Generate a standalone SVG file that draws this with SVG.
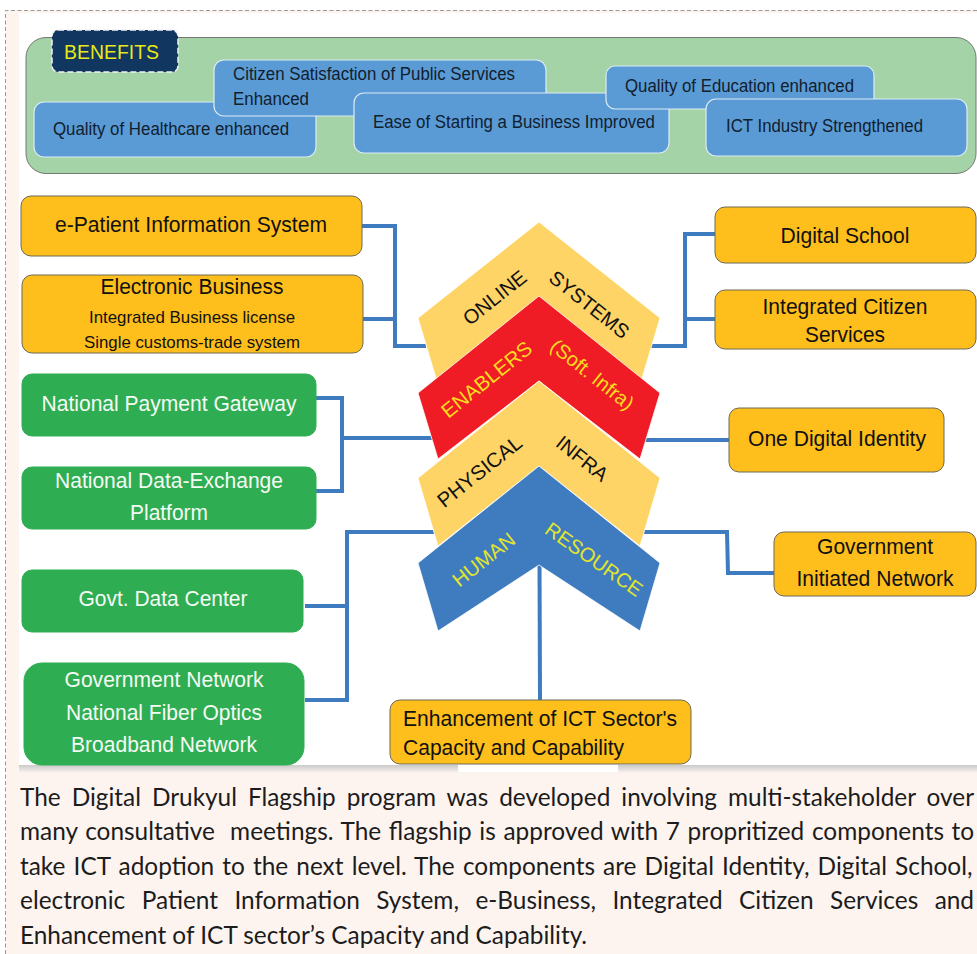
<svg xmlns="http://www.w3.org/2000/svg" width="977" height="954" viewBox="0 0 977 954">
<defs>
<linearGradient id="shade" x1="0" y1="0" x2="0" y2="1"><stop offset="0" stop-color="#c9c9c9"/><stop offset="1" stop-color="#fdf4f0"/></linearGradient>
</defs>
<style>
text{font-family:"Liberation Sans",Arial,sans-serif;fill:#111;text-anchor:middle}
.blue rect{fill:#5b9bd5;stroke:#deebf6;stroke-width:1.2}
.blue text{font-size:17.5px;text-anchor:start;fill:#10202e}
.or rect{fill:#febe1c;stroke:#6f6a55;stroke-width:1}
.gr rect{fill:#2fad52;stroke:#2fad52;stroke-width:1}
.gr text{fill:#f4fbf4;font-size:22px}
.or text{font-size:22px}
.lnk{fill:none;stroke:#3f7cbf;stroke-width:4}
.chev{stroke:#fff;stroke-width:.8}
.ch{font-size:21px}
.body{font-family:"Lato","Carlito",sans-serif;font-size:24.400px;text-anchor:start;fill:#1c1c1c}
</style>
<rect width="977" height="954" fill="#fff"/>
<rect x="6" y="10" width="971" height="944" fill="#fdf4f0"/>
<path d="M5.500 954V10.500H977" fill="none" stroke="#999" stroke-width="1" stroke-dasharray="4 2.500"/>
<rect x="19" y="13" width="958" height="752" fill="#fff"/>
<rect x="19" y="765" width="958" height="8" fill="url(#shade)"/>
<rect x="458" y="765" width="160" height="7" fill="#fff"/>

<g id="connectors">
<path class="lnk" d="M362 226H395V346H426M362 319H395"/>
<path class="lnk" d="M651 346H685V234H715M685 319H715"/>
<path class="lnk" d="M316 398H342V491H316M342 438H434"/>
<path class="lnk" d="M644 440H729"/>
<path class="lnk" d="M437 532H347V700H305M305 606H347"/>
<path class="lnk" d="M642 532H727L728 573H774"/>
<path class="lnk" d="M539.500 560L540 700"/>
</g>

<g id="benefits">
<rect x="26" y="37.500" width="950" height="136" rx="20" fill="#a3d3a7" stroke="#777" stroke-width="1"/>
<rect x="52" y="30" width="126" height="42" rx="6" fill="#113660" stroke="#f2f2f2" stroke-width="1.500" stroke-dasharray="6 3"/>
<text x="64" y="59" textLength="95" lengthAdjust="spacingAndGlyphs" style="font-size:20.500px;text-anchor:start;fill:#e8e81a">BENEFITS</text>
</g>
<g id="b-health" class="blue"><rect x="34" y="102" width="282" height="55" rx="10"/><text x="53" y="135" textLength="236" lengthAdjust="spacingAndGlyphs">Quality of Healthcare enhanced</text></g>
<g id="b-citizen" class="blue"><rect x="214" y="60" width="332" height="56" rx="10"/><text x="233" y="80" textLength="282" lengthAdjust="spacingAndGlyphs">Citizen Satisfaction of Public Services</text><text x="233" y="105" textLength="76" lengthAdjust="spacingAndGlyphs">Enhanced</text></g>
<g id="b-ease" class="blue"><rect x="354" y="93" width="315" height="60" rx="10"/><text x="373" y="128" textLength="282" lengthAdjust="spacingAndGlyphs">Ease of Starting a Business Improved</text></g>
<g id="b-edu" class="blue"><rect x="606" y="66" width="268" height="43" rx="9"/><text x="625" y="92" textLength="229" lengthAdjust="spacingAndGlyphs">Quality of Education enhanced</text></g>
<g id="b-ict" class="blue"><rect x="706" y="99" width="261" height="57" rx="10"/><text x="726" y="132" textLength="197" lengthAdjust="spacingAndGlyphs">ICT Industry Strengthened</text></g>

<g id="n-epatient" class="or"><rect x="21" y="196" width="341" height="60" rx="10"/><text x="191" y="232" textLength="272" lengthAdjust="spacingAndGlyphs">e-Patient Information System</text></g>
<g id="n-ebusiness" class="or"><rect x="22" y="275" width="341" height="78" rx="10"/><text x="192" y="294" textLength="183" lengthAdjust="spacingAndGlyphs">Electronic Business</text><text x="192" y="323" textLength="206" lengthAdjust="spacingAndGlyphs" style="font-size:17px">Integrated Business license</text><text x="192" y="348" textLength="216" lengthAdjust="spacingAndGlyphs" style="font-size:17px">Single customs-trade system</text></g>
<g id="n-payment" class="gr"><rect x="22" y="374" width="294" height="62" rx="10"/><text x="169" y="411" textLength="255" lengthAdjust="spacingAndGlyphs">National Payment Gateway</text></g>
<g id="n-exchange" class="gr"><rect x="22" y="467" width="294" height="62" rx="10"/><text x="169" y="488" textLength="228" lengthAdjust="spacingAndGlyphs">National Data-Exchange</text><text x="169" y="520" textLength="78" lengthAdjust="spacingAndGlyphs">Platform</text></g>
<g id="n-datacenter" class="gr"><rect x="22" y="570" width="281" height="62" rx="10"/><text x="163" y="606" textLength="169" lengthAdjust="spacingAndGlyphs">Govt. Data Center</text></g>
<g id="n-govnet" class="gr"><rect x="24" y="663" width="280" height="102" rx="18"/><text x="164" y="687" textLength="199" lengthAdjust="spacingAndGlyphs">Government Network</text><text x="164" y="720" textLength="196" lengthAdjust="spacingAndGlyphs">National Fiber Optics</text><text x="164" y="752" textLength="186" lengthAdjust="spacingAndGlyphs">Broadband Network</text></g>
<g id="n-school" class="or"><rect x="715" y="207" width="261" height="56" rx="10"/><text x="845" y="243" textLength="129" lengthAdjust="spacingAndGlyphs">Digital School</text></g>
<g id="n-citizen" class="or"><rect x="715" y="290" width="261" height="59" rx="10"/><text x="845" y="314" textLength="165" lengthAdjust="spacingAndGlyphs">Integrated Citizen</text><text x="845" y="342" textLength="80" lengthAdjust="spacingAndGlyphs">Services</text></g>
<g id="n-identity" class="or"><rect x="729" y="408" width="215" height="64" rx="10"/><text x="837" y="446" textLength="178" lengthAdjust="spacingAndGlyphs">One Digital Identity</text></g>
<g id="n-network" class="or"><rect x="774" y="532" width="202" height="64" rx="10"/><text x="875" y="554" textLength="116" lengthAdjust="spacingAndGlyphs">Government</text><text x="875" y="586" textLength="157" lengthAdjust="spacingAndGlyphs">Initiated Network</text></g>
<g id="n-capacity" class="or"><rect x="390" y="700" width="301" height="64" rx="10"/><text x="403" y="726" textLength="274" lengthAdjust="spacingAndGlyphs" style="text-anchor:start">Enhancement of ICT Sector's</text><text x="403" y="755" textLength="221" lengthAdjust="spacingAndGlyphs" style="text-anchor:start">Capacity and Capability</text></g>

<g id="c-online"><polygon class="chev" points="539,222 660,318 640,385 539,310 438,385 418,318" fill="#fed467"/>
<text class="ch" transform="translate(499,303) rotate(-38.500)" style="font-size:20px">ONLINE</text><text class="ch" transform="translate(585,310) rotate(38.500)" style="font-size:20px">SYSTEMS</text></g>
<g id="c-enablers"><polygon class="chev" points="539,296 660,393 640,459 539,381 438,459 418,393" fill="#ef1c26"/>
<text class="ch" transform="translate(491,385) rotate(-38.500)" style="font-size:20.500px;fill:#f9dc1e">ENABLERS</text><text class="ch" transform="translate(588,380) rotate(38.500)" style="font-size:20px;fill:#f9dc1e">(Soft. Infra)</text></g>
<g id="c-physical"><polygon class="chev" points="539,381 660,478 640,546 539,466 438,546 418,478" fill="#fed467"/>
<text class="ch" transform="translate(484,477) rotate(-38.500)" style="font-size:20.500px">PHYSICAL</text><text class="ch" transform="translate(578,464) rotate(38.500)" style="font-size:20px">INFRA</text></g>
<g id="c-human"><polygon class="chev" points="539,466 660,563 640,631 539,565 438,631 418,563" fill="#3f7cbf"/>
<text class="ch" transform="translate(488,565) rotate(-38.500)" style="font-size:20px;fill:#e4e62a">HUMAN</text><text class="ch" transform="translate(590,565) rotate(35)" style="font-size:20px;fill:#e4e62a">RESOURCE</text></g>

<g id="caption">
<text class="body" x="20" y="806" word-spacing="4.700">The Digital Drukyul Flagship program was developed involving multi-stakeholder over</text>
<text class="body" x="20" y="840" word-spacing="1.430" xml:space="preserve">many consultative  meetings. The flagship is approved with 7 propritized components to</text>
<text class="body" x="20" y="875" word-spacing="1.900">take ICT adoption to the next level. The components are Digital Identity, Digital School,</text>
<text class="body" x="20" y="909" word-spacing="10.200">electronic Patient Information System, e-Business, Integrated Citizen Services and</text>
<text class="body" x="20" y="944">Enhancement of ICT sector’s Capacity and Capability.</text>
</g>
</svg>
